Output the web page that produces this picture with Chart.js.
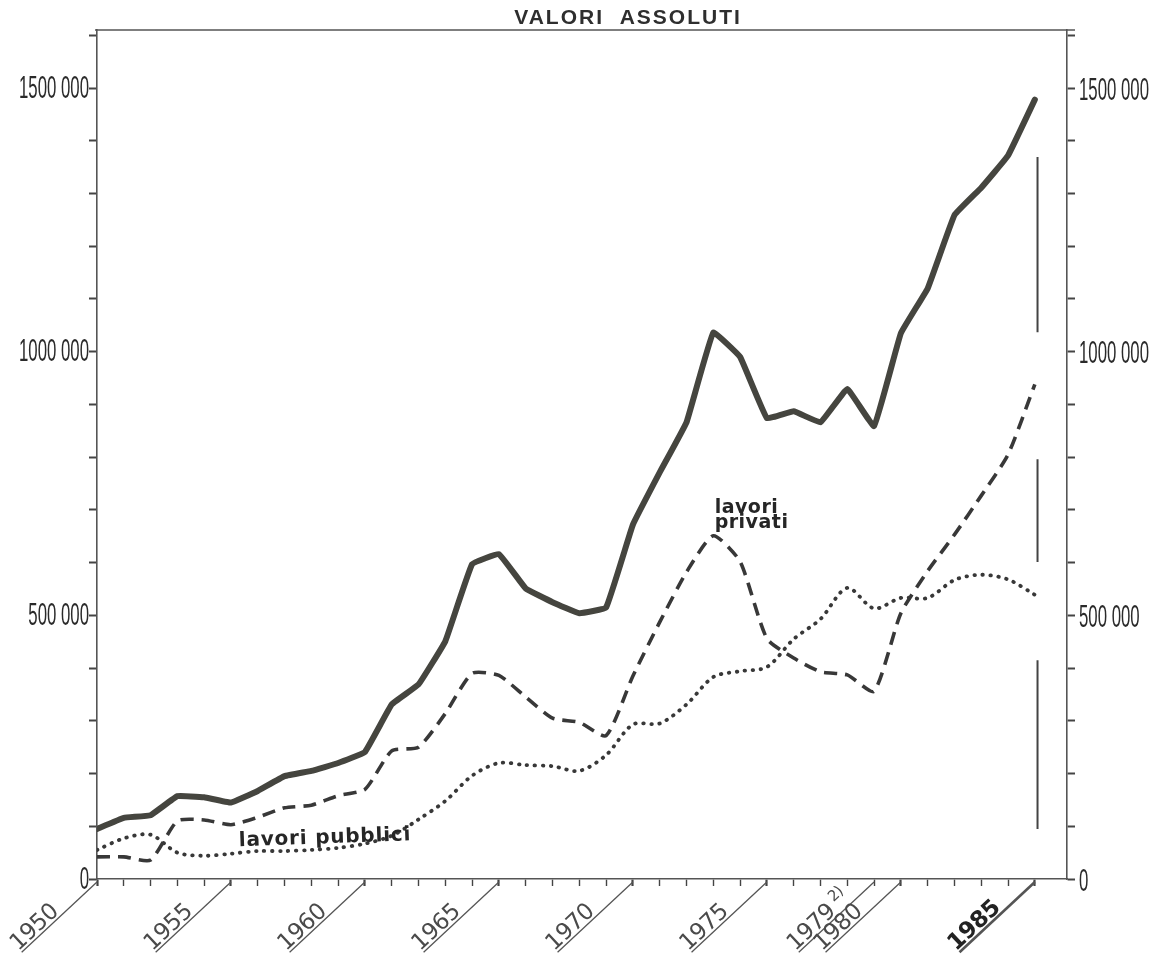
<!DOCTYPE html>
<html>
<head>
<meta charset="utf-8">
<script src="https://cdn.jsdelivr.net/npm/chart.js@4.4.1/dist/chart.umd.min.js"></script>
<style>
  html, body { margin: 0; padding: 0; background: #ffffff; }
  #wrap { width: 1158px; height: 960px; position: relative; }
</style>
</head>
<body>
<div id="wrap"><canvas id="c" width="1158" height="960"></canvas></div>
<script>
// ---------- data ----------
const years = [1950,1951,1952,1953,1954,1955,1956,1957,1958,1959,
               1960,1961,1962,1963,1964,1965,1966,1967,1968,1969,
               1970,1971,1972,1973,1974,1975,1976,1977,1978,1979,
               1980,1981,1982,1983,1984,1985];

const totale = [95000,116000,121000,157000,155000,145000,167000,195000,205000,220000,
                241000,331000,369000,451000,597000,616000,551000,525000,504000,515000,
                672000,771000,866000,1036000,990000,874000,887000,866000,929000,859000,
                1035000,1120000,1259000,1311000,1372000,1478000];

const lavoriPrivati = [42000,42000,36000,110000,112000,103000,117000,135000,140000,158000,
                       170000,243000,250000,314000,390000,386000,345000,305000,297000,272000,
                       385000,487000,582000,651000,602000,456000,419000,393000,387000,356000,
                       504000,584000,653000,727000,805000,938000];

const lavoriPubblici = [55000,77000,84000,50000,44000,48000,53000,53000,55000,59000,
                        67000,82000,113000,148000,196000,220000,216000,214000,205000,235000,
                        293000,295000,331000,383000,394000,402000,455000,493000,552000,513000,
                        533000,533000,567000,577000,568000,539000];

const yTicks = [0,100000,200000,300000,400000,500000,600000,700000,800000,
                900000,1000000,1100000,1200000,1300000,1400000,1500000,1600000];
const yLabelValues = [0, 500000, 1000000, 1500000];
const yLabelTexts  = ['0', '500 000', '1000 000', '1500 000'];

const xLabelYears = [1950, 1955, 1960, 1965, 1970, 1975, 1979, 1980, 1985];
const xLabelTexts = ['1950', '1955', '1960', '1965', '1970', '1975', '1979', '1980', '1985'];
const xLabelNote  = {1979: '2)'};

const markerYear = 1985.1;
const markerTops    = [1369000, 796000, 415000];
const markerBottoms = [1037000, 601000, 95000];

const chartTitle = 'VALORI  ASSOLUTI';
const labelPrivati = ['lavori', 'privati'];
const labelPrivatiAt = [1973.05, 695000];
const labelPubblici = 'lavori pubblici';
const labelPubbliciAt = [1955.3, 62000];

// ---------- helpers ----------
function toPoints(vals) { return years.map((yr, i) => ({x: yr, y: vals[i]})); }
const markerData = [];
markerTops.forEach((t, i) => {
  markerData.push({x: markerYear, y: t});
  markerData.push({x: markerYear, y: markerBottoms[i]});
  markerData.push({x: markerYear, y: null});
});

const INK = '#383838';

const decorPlugin = {
  id: 'decor',
  afterDraw(chart) {
    const ctx = chart.ctx;
    const ca = chart.chartArea;
    const xs = chart.scales.x, ys = chart.scales.y, ys2 = chart.scales.y2;

    // top frame line
    ctx.save();
    ctx.strokeStyle = '#555'; ctx.lineWidth = 1.5;
    ctx.beginPath(); ctx.moveTo(ca.left - 2, ca.top); ctx.lineTo(ca.right + 8, ca.top); ctx.stroke();
    ctx.restore();

    // title
    ctx.save();
    ctx.font = 'bold 21px "Liberation Sans", Arial, sans-serif';
    ctx.fillStyle = '#2e2e2e';
    ctx.textAlign = 'center';
    ctx.textBaseline = 'alphabetic';
    try { ctx.letterSpacing = '2px'; } catch (e) {}
    ctx.fillText(chartTitle, 628, 24);
    ctx.restore();

    // y labels (condensed)
    ctx.save();
    ctx.font = '31px "Liberation Sans Narrow", "Liberation Sans", Arial, sans-serif';
    const sx = 70 / ctx.measureText('1500 000').width;
    ctx.restore();
    yLabelValues.forEach((v, i) => {
      const t = yLabelTexts[i];
      ctx.save();
      ctx.translate(89, ys.getPixelForValue(v) + 1);
      ctx.scale(sx, 1);
      ctx.font = '31px "Liberation Sans Narrow", "Liberation Sans", Arial, sans-serif';
      ctx.fillStyle = '#2a2a2a'; ctx.textAlign = 'right'; ctx.textBaseline = 'middle';
      ctx.fillText(t, 0, 0);
      ctx.restore();
      ctx.save();
      ctx.translate(1079, ys2.getPixelForValue(v) + 3);
      ctx.scale(sx, 1);
      ctx.font = '31px "Liberation Sans Narrow", "Liberation Sans", Arial, sans-serif';
      ctx.fillStyle = '#2a2a2a'; ctx.textAlign = 'left'; ctx.textBaseline = 'middle';
      ctx.fillText(t, 0, 0);
      ctx.restore();
    });

    // x labels with diagonal underline
    const ang = 43 * Math.PI / 180;
    const L = 103;
    xLabelYears.forEach((yr, i) => {
      const px = xs.getPixelForValue(yr);
      const py = ca.bottom + 3;
      const bold = yr === 1985;
      const x0 = px - L * Math.cos(ang), y0 = py + L * Math.sin(ang);
      ctx.save();
      ctx.strokeStyle = '#555';
      ctx.lineWidth = bold ? 2.6 : 1.3;
      ctx.beginPath(); ctx.moveTo(x0, y0); ctx.lineTo(px, py); ctx.stroke();
      ctx.translate(x0, y0);
      ctx.rotate(-ang);
      ctx.fillStyle = bold ? '#222' : '#4a4a4a';
      ctx.font = (bold ? 'bold ' : '') + '23px "DejaVu Sans", sans-serif';
      ctx.textAlign = 'left'; ctx.textBaseline = 'alphabetic';
      try { ctx.letterSpacing = '-0.5px'; } catch (e) {}
      ctx.fillText(xLabelTexts[i], -2, -3);
      if (xLabelNote[yr]) {
        const w = ctx.measureText(xLabelTexts[i]).width;
        ctx.font = '15px "DejaVu Sans", sans-serif';
        ctx.fillText(xLabelNote[yr], w + 3, -13);
      }
      ctx.restore();
    });

    // series annotations
    ctx.save();
    ctx.fillStyle = '#262626';
    ctx.font = 'bold 19px "DejaVu Sans", sans-serif';
    ctx.textAlign = 'left'; ctx.textBaseline = 'alphabetic';
    try { ctx.letterSpacing = '0.5px'; } catch (e) {}
    const ax = xs.getPixelForValue(labelPrivatiAt[0]);
    const ay = ys.getPixelForValue(labelPrivatiAt[1]);
    ctx.fillText(labelPrivati[0], ax, ay);
    ctx.fillText(labelPrivati[1], ax, ay + 15);
    ctx.restore();

    ctx.save();
    ctx.fillStyle = '#262626';
    ctx.font = 'bold 20px "DejaVu Sans", sans-serif';
    ctx.textAlign = 'left'; ctx.textBaseline = 'alphabetic';
    try { ctx.letterSpacing = '0.8px'; } catch (e) {}
    ctx.translate(xs.getPixelForValue(labelPubbliciAt[0]), ys.getPixelForValue(labelPubbliciAt[1]));
    ctx.rotate(-2 * Math.PI / 180);
    ctx.fillText(labelPubblici, 0, 0);
    ctx.restore();
  }
};

new Chart(document.getElementById('c'), {
  type: 'line',
  data: {
    datasets: [
      {
        label: 'totale',
        data: toPoints(totale),
        borderColor: '#45453f', borderWidth: 6,
        borderJoinStyle: 'round', borderCapStyle: 'round',
        tension: 0.08, pointRadius: 0, yAxisID: 'y'
      },
      {
        label: 'lavori privati',
        data: toPoints(lavoriPrivati),
        borderColor: INK, borderWidth: 3.6, borderDash: [13, 8],
        tension: 0.2, pointRadius: 0, yAxisID: 'y'
      },
      {
        label: 'lavori pubblici',
        data: toPoints(lavoriPubblici),
        borderColor: INK, borderWidth: 3.8, borderDash: [0.5, 7.5], borderCapStyle: 'round',
        tension: 0.3, pointRadius: 0, yAxisID: 'y'
      },
      {
        label: 'marker',
        data: markerData,
        borderColor: '#444', borderWidth: 2,
        spanGaps: false, tension: 0, pointRadius: 0, yAxisID: 'y'
      }
    ]
  },
  options: {
    responsive: false,
    devicePixelRatio: 1,
    animation: false,
    layout: { padding: { top: 30, bottom: 0, left: 0, right: 0 } },
    plugins: { legend: { display: false }, tooltip: { enabled: false }, title: { display: false } },
    scales: {
      x: {
        type: 'linear', min: 1950, max: 1986.2,
        afterBuildTicks: (s) => { s.ticks = years.map(v => ({value: v})); },
        afterFit: (s) => { s.height = 81; },
        ticks: { display: false },
        grid: { drawOnChartArea: false, drawTicks: true, tickLength: 7, tickColor: '#444',
                tickWidth: (c) => (c.tick && c.tick.value % 5 === 0 ? 2.2 : 1.4) },
        border: { display: true, color: '#555', width: 1.6 }
      },
      y: {
        type: 'linear', position: 'left', min: 0, max: 1610000,
        afterBuildTicks: (s) => { s.ticks = yTicks.map(v => ({value: v})); },
        afterFit: (s) => { s.width = 97; },
        ticks: { display: false },
        grid: { drawOnChartArea: false, drawTicks: true, tickLength: 8, tickColor: '#444', tickWidth: 2 },
        border: { display: true, color: '#555', width: 1.6 }
      },
      y2: {
        type: 'linear', position: 'right', min: 0, max: 1610000,
        afterBuildTicks: (s) => { s.ticks = yTicks.map(v => ({value: v})); },
        afterFit: (s) => { s.width = 91; },
        ticks: { display: false },
        grid: { drawOnChartArea: false, drawTicks: true, tickLength: 8, tickColor: '#444', tickWidth: 2 },
        border: { display: true, color: '#555', width: 1.6 }
      }
    }
  },
  plugins: [decorPlugin]
});
</script>
</body>
</html>
